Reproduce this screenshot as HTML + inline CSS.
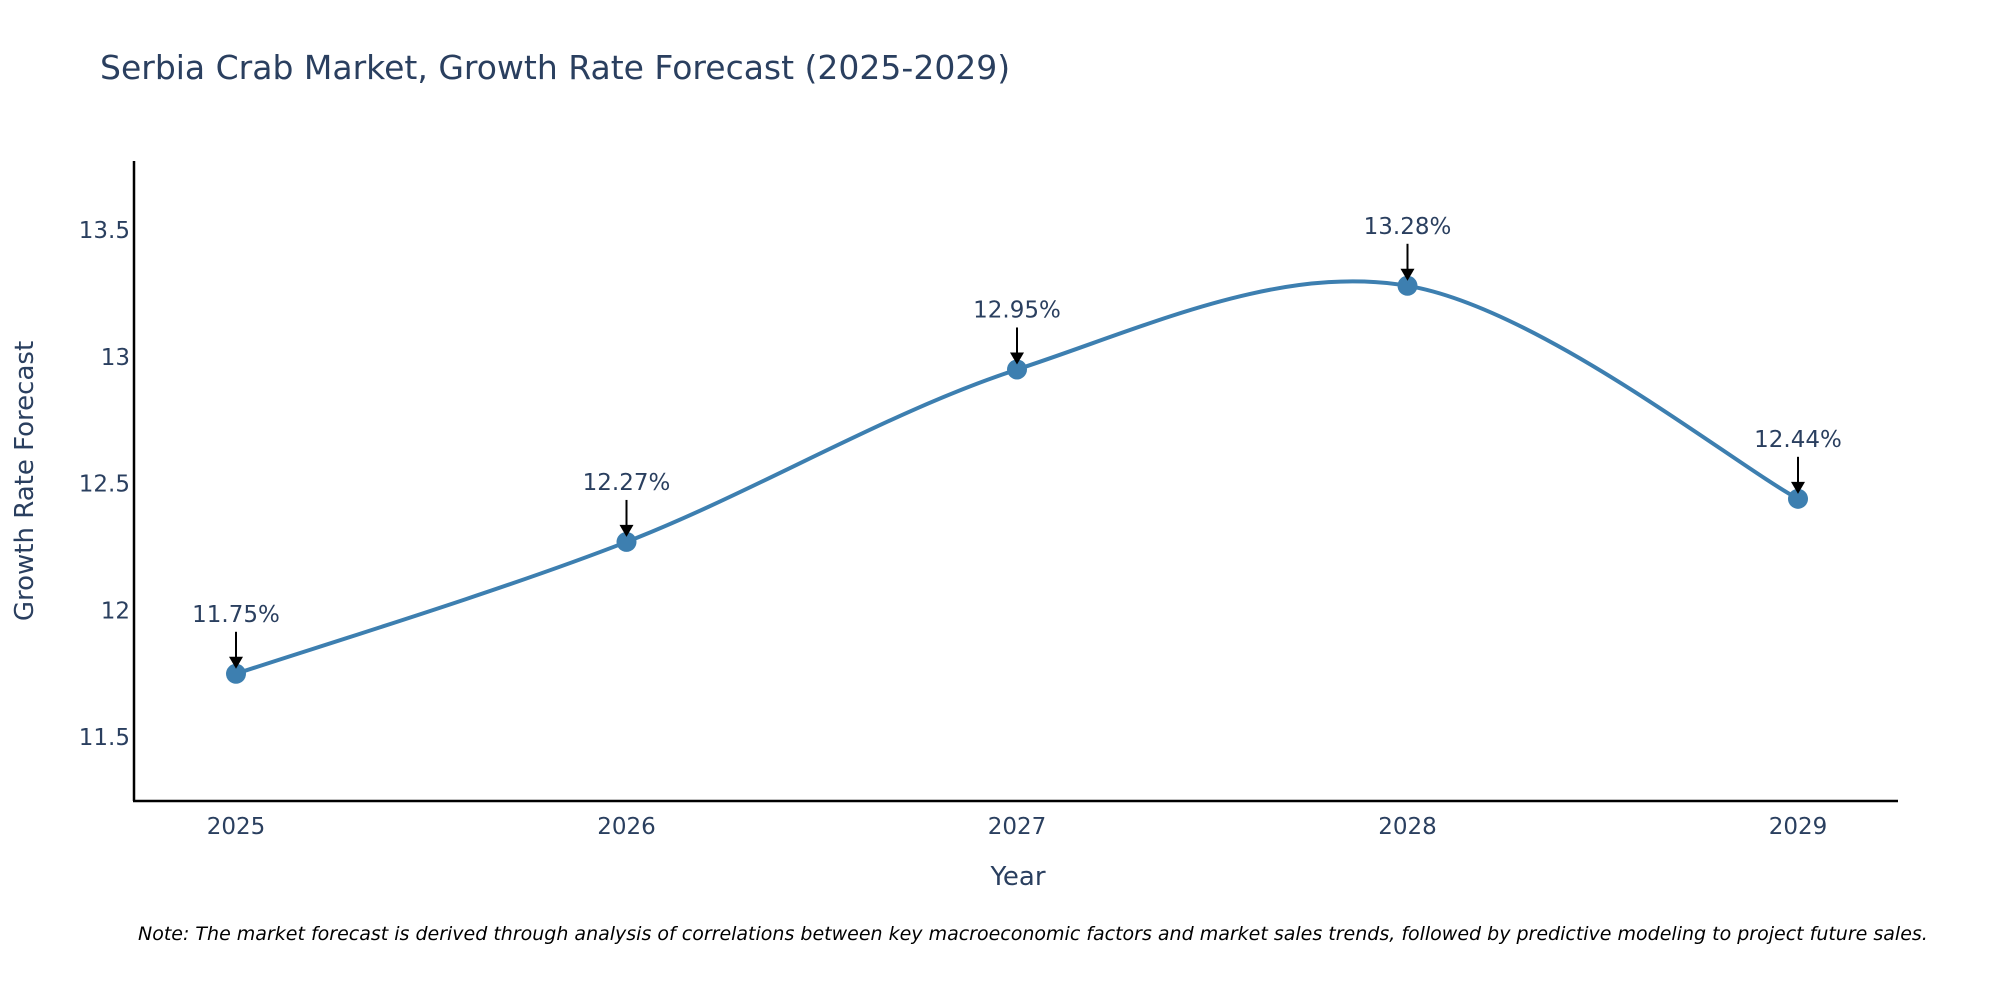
<!DOCTYPE html>
<html><head><meta charset="utf-8"><style>
html,body{margin:0;padding:0;background:#fff;}
svg{display:block;font-family:"DejaVu Sans","Liberation Sans",sans-serif;}
</style></head><body>
<svg width="2000" height="1000" xmlns="http://www.w3.org/2000/svg" id="chart">
<text x="100" y="79" font-size="33" fill="#2a3f5f">Serbia Crab Market, Growth Rate Forecast (2025-2029)</text>
<g id="yticks"></g>
<g id="xticks"></g>
<line x1="134" y1="161" x2="134" y2="801" stroke="#000" stroke-width="2.5"/>
<line x1="133" y1="801" x2="1898" y2="801" stroke="#000" stroke-width="2.5"/>
<path id="line" fill="none" stroke="#3d7fb0" stroke-width="4"/>
<g id="marks"></g>
<text x="1018" y="885" font-size="26" fill="#2a3f5f" text-anchor="middle">Year</text>
<text transform="translate(33,481) rotate(-90)" font-size="26" fill="#2a3f5f" text-anchor="middle">Growth Rate Forecast</text>
<text x="138" y="940" font-size="19" font-style="italic" fill="#000">Note: The market forecast is derived through analysis of correlations between key macroeconomic factors and market sales trends, followed by predictive modeling to project future sales.</text>
</svg>
<script>
const years = [2025, 2026, 2027, 2028, 2029];
const values = [11.75, 12.27, 12.95, 13.28, 12.44];
const labels = ["11.75%", "12.27%", "12.95%", "13.28%", "12.44%"];
const yTicks = [11.5, 12, 12.5, 13, 13.5];
const yTickLabels = ["11.5", "12", "12.5", "13", "13.5"];
const NS = "http://www.w3.org/2000/svg";
const xs = v => 236 + (v - 2025) * (1798 - 236) / 4;
const ys = v => 230 + (13.5 - v) * 253.6;
function mk(tag, attrs, parent, txt) {
  const e = document.createElementNS(NS, tag);
  for (const k in attrs) e.setAttribute(k, attrs[k]);
  if (txt !== undefined) e.textContent = txt;
  parent.appendChild(e);
  return e;
}
const yt = document.getElementById('yticks');
yTicks.forEach((t, i) => {
  const e = mk('text', {x: 130, y: ys(t) + 8, 'font-size': 23, fill: '#2a3f5f', 'text-anchor': 'end'}, yt, yTickLabels[i]);
  
  
});
const xt = document.getElementById('xticks');
years.forEach(y => {
  const e = mk('text', {x: xs(y), y: 834, 'font-size': 23, fill: '#2a3f5f', 'text-anchor': 'middle'}, xt, String(y));
  
  
});
const pts = years.map((y, i) => [xs(y), ys(values[i])]);
let d = `M${pts[0][0]},${pts[0][1]}`;
for (let i = 0; i < pts.length - 1; i++) {
  const p0 = pts[Math.max(0, i - 1)], p1 = pts[i], p2 = pts[i + 1], p3 = pts[Math.min(pts.length - 1, i + 2)];
  const c1 = [p1[0] + (p2[0] - p0[0]) / 6, p1[1] + (p2[1] - p0[1]) / 6];
  const c2 = [p2[0] - (p3[0] - p1[0]) / 6, p2[1] - (p3[1] - p1[1]) / 6];
  d += ` C${c1[0]},${c1[1]} ${c2[0]},${c2[1]} ${p2[0]},${p2[1]}`;
}
document.getElementById('line').setAttribute('d', d);
const mg = document.getElementById('marks');
pts.forEach((p, i) => {
  const c = mk('circle', {cx: p[0], cy: p[1], r: 10, fill: '#3d7fb0'}, mg);
  
  
  const l = mk('line', {x1: p[0], y1: p[1] - 42, x2: p[0], y2: p[1] - 14, stroke: '#000', 'stroke-width': 2}, mg);
  
  
  const h = mk('polygon', {points: `${p[0]-7},${p[1]-17} ${p[0]+7},${p[1]-17} ${p[0]},${p[1]-5}`, fill: '#000'}, mg);
  
  
  const t = mk('text', {x: p[0], y: p[1] - 52, 'font-size': 23, fill: '#2a3f5f', 'text-anchor': 'middle'}, mg, labels[i]);
  
  
});
</script>
</body></html>
